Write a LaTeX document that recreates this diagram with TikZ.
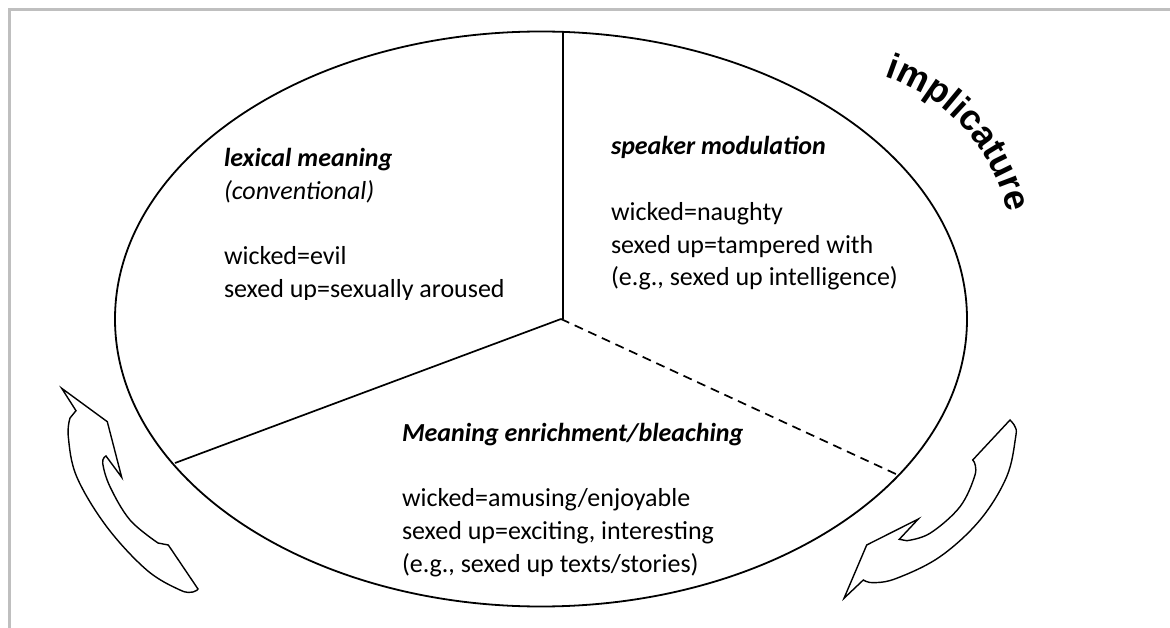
\documentclass[tikz,border=0pt]{standalone}
\usepackage{fontspec}
\setmainfont{Carlito}
\newfontfamily\archfont{Liberation Sans}
\usetikzlibrary{decorations.text}
\begin{document}
\begin{tikzpicture}[x=1pt,y=-1pt,
  label/.style={inner sep=0pt, outer sep=0pt, anchor=base west,
    font=\fontsize{26}{32.7}\selectfont},
  head/.style={label, font=\fontsize{26}{32.7}\selectfont\bfseries\itshape},
  soft/.style={label, font=\fontsize{26}{32.7}\selectfont\itshape},
  frameline/.style={draw=black!25, line width=3pt},
  ring/.style={line width=1.8pt},
  divider/.style={line width=1.7pt},
  swirl/.style={line width=1.4pt, line join=miter}]
\useasboundingbox (0,0) rectangle (1170,628);
\fill[white] (0,0) rectangle (1170,628);

% page frame (top and left edges only)
\draw[frameline] (9,628) -- (9,9.5) -- (1170,9.5);

% the three-sector ellipse
\draw[ring] (541,319) ellipse [x radius=426, y radius=287.5];
\coordinate (hub) at (561,319);
\coordinate (north) at (563,31.6);
\coordinate (west) at (175,463);
\coordinate (east) at (898,475);
\draw[divider] (north) -- (north |- hub);
\draw[divider] (hub) -- (west);
\draw[divider, dash pattern=on 9pt off 6pt] (hub) -- (east);

% sector: lexical meaning
\node[head] (lexhead) at (224,166.7) {lexical meaning};
\node[soft] (lexconv) at (224,199.4) {(conventional)};
\node[label] (lexwicked) at (224,264.8) {wicked=evil};
\begin{scope}
  \clip (200,270) rectangle (550,300);
  \node[label] (lexsexed) at (224,297.5) {sexed up=sexually aroused};
\end{scope}

% sector: speaker modulation
\node[head] (spkhead) at (611,155) {speaker modulation};
\node[label] (spkwicked) at (611,220.4) {wicked=naughty};
\node[label] (spksexed) at (611,253.1) {sexed up=tampered with};
\node[label] (spkeg) at (611,285.8) {(e.g., sexed up intelligence)};

% sector: meaning enrichment / bleaching
\node[head] (enrhead) at (402,441.5) {Meaning enrichment/bleaching};
\node[label] (enrwicked) at (402,506.9) {wicked=amusing/enjoyable};
\node[label] (enrsexed) at (402,539.6) {sexed up=exciting, interesting};
\node[label] (enreg) at (402,572.3) {(e.g., sexed up texts/stories)};

% arched word outside the ellipse (y axis points down, so angles are negated)
\path[decorate, decoration={text along path, text align=center,
    text=|\archfont\bfseries\fontsize{36}{36}\selectfont|implicature}]
  (826,253) ++(-75:186) arc[start angle=-75, end angle=-9, radius=186];

% curved block arrow, lower left
\draw[swirl] (61.7,388.3) -- (76,410.7)
  -- plot[smooth, tension=0.6] coordinates {(70,418) (68.3,436.7) (76.7,476.7)
     (106.7,526.7) (146.7,570) (180,590) (193,592) (198,589)}
  -- (168.3,545)
  -- plot[smooth, tension=0.6] coordinates {(158,543) (130,520) (110,486.7)
     (102.7,463) (106,456)}
  -- (121.7,477.3) -- (107.3,421.7) -- cycle;

% curved block arrow, lower right
\draw[swirl] (972.7,460)
  -- plot[smooth, tension=0.6] coordinates {(1010,420) (1015,426.7) (1015.7,436.7)
     (1006.7,476.7) (980,520) (940,556.7) (896.7,578.3) (873.3,582.7) (863.3,580)}
  -- (844,598.3) -- (866.7,545) -- (918.3,519) -- (899.3,539.3)
  -- plot[smooth, tension=0.6] coordinates {(906.7,540.7) (930,533.3) (960,506.7)
     (975,475) (974,461.7)}
  -- cycle;
\end{tikzpicture}
\end{document}
